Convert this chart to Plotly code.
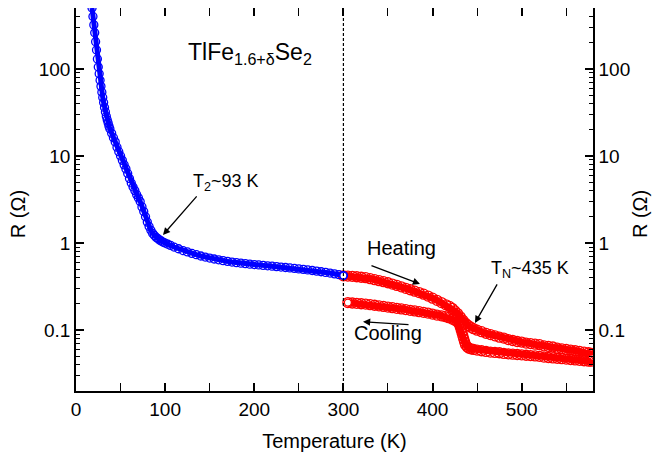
import math
import plotly.graph_objects as go

# ---------------- data ----------------
T_low = [18, 19, 20, 21, 22, 23, 24, 25, 26, 27, 28, 29, 30, 31, 32, 33, 34, 35, 36, 37, 38,
         40, 42, 44, 46, 48, 50, 52, 54, 56, 58, 60, 62, 64, 66, 68, 70, 72, 74, 76, 78,
         80, 82, 84, 86, 88, 90, 92, 94, 96, 98, 100, 103, 106, 110, 115, 120, 125, 130,
         135, 140, 145, 150, 155, 160, 165, 170, 175, 180, 185, 190, 195, 200, 205, 210,
         215, 220, 225, 230, 235, 240, 245, 250, 255, 260, 265, 270, 275, 280, 285, 290,
         295, 300]
R_low = [500, 400, 320, 260, 205, 165, 130, 105, 88, 74, 63, 54, 47, 41, 36, 32, 28.5, 26, 24,
         22, 20.5,
         18.2, 16.2, 14.5, 12.6, 11.2, 10.0, 8.9, 7.9, 7.1, 6.3, 5.5, 4.9, 4.4, 4.0, 3.6, 3.3,
         3.0, 2.6, 2.3, 2.0,
         1.74, 1.55, 1.40, 1.29, 1.22, 1.16, 1.12, 1.08, 1.05, 1.02, 1.0, 0.97, 0.94, 0.90,
         0.86, 0.82, 0.79, 0.76,
         0.735, 0.71, 0.69, 0.672, 0.656, 0.642, 0.628, 0.616, 0.605, 0.595, 0.587, 0.579,
         0.572, 0.566, 0.56, 0.554,
         0.548, 0.542, 0.536, 0.53, 0.524, 0.518, 0.511, 0.505, 0.498, 0.491, 0.484, 0.476,
         0.468, 0.46, 0.452, 0.443,
         0.433, 0.423]

T_heat = [300, 305, 310, 315, 320, 325, 330, 335, 340, 345, 350, 355, 360, 365, 370, 375,
          380, 385, 390, 395, 400, 405, 410, 415, 419, 422, 425, 428, 431, 434, 437, 440,
          443, 446, 450, 455, 460, 465, 470, 475, 480, 485, 490, 495, 500, 505, 510, 515,
          520, 525, 530, 535, 540, 545, 550, 555, 560, 565, 570, 575, 578, 579, 579, 579]
R_heat = [0.42, 0.418, 0.415, 0.41, 0.405, 0.40, 0.39, 0.38, 0.37, 0.36, 0.35, 0.338, 0.326,
          0.314, 0.302, 0.291, 0.28, 0.27, 0.259, 0.246, 0.233, 0.22, 0.207, 0.195, 0.187, 0.178,
          0.166, 0.155, 0.142, 0.13, 0.12, 0.113, 0.108, 0.104, 0.10, 0.096, 0.092, 0.089,
          0.086, 0.083, 0.081, 0.078, 0.076, 0.074, 0.073, 0.071, 0.07, 0.069, 0.068, 0.066,
          0.065, 0.064, 0.062, 0.061, 0.06, 0.059, 0.058, 0.057, 0.056, 0.055, 0.054, 0.052,
          0.05, 0.048]

T_cool = [579, 578, 575, 570, 565, 560, 555, 550, 545, 540, 535, 530, 525, 520, 515, 510,
          505, 500, 495, 490, 485, 480, 475, 470, 465, 460, 455, 450, 446, 443, 441, 439,
          437, 436, 435, 434, 433, 432, 431, 430, 428, 425, 422, 418, 414, 410, 405, 400,
          395, 390, 385, 380, 375, 370, 365, 360, 355, 350, 345, 340, 335, 330, 325, 320,
          315, 310, 305]
R_cool = [0.046, 0.044, 0.044, 0.0445, 0.045, 0.0455, 0.046, 0.0465, 0.047, 0.0475, 0.048,
          0.0485, 0.049, 0.050, 0.0505, 0.051, 0.0515, 0.052, 0.0525, 0.053, 0.0535, 0.054,
          0.055, 0.0555, 0.056, 0.057, 0.058, 0.059, 0.060, 0.061, 0.062, 0.064, 0.068,
          0.073, 0.079, 0.086, 0.094, 0.102, 0.11, 0.117, 0.124, 0.13, 0.134, 0.139, 0.143,
          0.146, 0.149, 0.153, 0.157, 0.160, 0.163, 0.166, 0.169, 0.172, 0.175, 0.178, 0.181,
          0.184, 0.187, 0.19, 0.193, 0.196, 0.199, 0.201, 0.203, 0.205, 0.207]

x_ticks = [0, 100, 200, 300, 400, 500]
y_ticks = [0.1, 1, 10, 100]
y_tick_text = ["0.1", "1", "10", "100"]
T_divider = 300

BLUE = "#0000FF"
RED = "#FF0000"
FONT = "Liberation Sans, Arial, Helvetica, sans-serif"

fig = go.Figure()


def add_series(T, R, color, size, lw):
    fig.add_trace(go.Scatter(
        x=T, y=R, mode="lines+markers",
        line=dict(color=color, width=lw),
        marker=dict(symbol="circle-open", size=size, color=color, line=dict(width=1.3)),
        hoverinfo="skip", showlegend=False))
    # last measured point drawn on top (white interior)
    fig.add_trace(go.Scatter(
        x=[T[-1]], y=[R[-1]], mode="markers",
        marker=dict(symbol="circle", size=7, color="white", line=dict(color=color, width=1.3)),
        hoverinfo="skip", showlegend=False))


add_series(T_heat, R_heat, RED, 10, 7)
add_series(T_cool, R_cool, RED, 10, 7)
add_series(T_low, R_low, BLUE, 8, 5)

# invisible trace to anchor the right axis
fig.add_trace(go.Scatter(x=[T_low[-1]], y=[R_low[-1]], yaxis="y2", mode="markers",
                         marker=dict(opacity=0), hoverinfo="skip", showlegend=False))

fig.add_shape(type="line", xref="x", yref="paper", x0=T_divider, x1=T_divider, y0=0, y1=1,
              line=dict(color="black", width=1.2, dash="3px,2px"))

ylog = [-1.69897, 2.69897]
axis_common = dict(showgrid=False, zeroline=False, linecolor="black", linewidth=1.5,
                   ticks="inside", ticklen=8, tickwidth=1.5, tickcolor="black", automargin=False,
                   tickfont=dict(family=FONT, size=19, color="black"))
minor_common = dict(ticks="inside", ticklen=4, tickwidth=1.3, tickcolor="black")

# the page body adds an 8 px margin, so the figure is 8 px smaller than the window
fig.update_layout(
    width=653, height=449,
    margin=dict(l=68, r=68, t=0, b=66),
    paper_bgcolor="white", plot_bgcolor="white",
    font=dict(family=FONT, color="black"),
    xaxis=dict(range=[0, 580], tickvals=x_ticks, showline=True, mirror="allticks",
               minor=dict(dtick=50, tick0=0, **minor_common),
               title=dict(text="Temperature (K)", font=dict(family=FONT, size=20), standoff=15),
               **axis_common),
    yaxis=dict(type="log", range=ylog, tickvals=y_ticks, ticktext=y_tick_text, showline=True,
               minor=dict(dtick="D1", **minor_common),
               **axis_common),
    yaxis2=dict(type="log", range=ylog, overlaying="y", side="right", tickvals=y_ticks,
                ticktext=y_tick_text, showline=True,
                minor=dict(dtick="D1", **minor_common),
                **axis_common),
)


def label(text, xp, yp, size, xanchor="left", angle=0):
    fig.add_annotation(text=text, xref="paper", yref="paper", x=xp, y=yp, showarrow=False,
                       xanchor=xanchor, yanchor="middle", textangle=angle,
                       font=dict(family=FONT, size=size, color="black"))


# y-axis titles (both sides)
label("R (Ω)", -0.112, 0.462, 20, xanchor="center", angle=-90)
label("R (Ω)", 1.091, 0.462, 20, xanchor="center", angle=-90)

label("TlFe<sub>1.6+δ</sub>Se<sub>2</sub>", 0.213, 0.88, 23)
label("T<sub>2</sub>~93 K", 0.222, 0.545, 18)
label("Heating", 0.559, 0.373, 20)
label("Cooling", 0.533, 0.151, 20)
label("T<sub>N</sub>~435 K", 0.799, 0.318, 18)


def arrow(x, y, ax, ay):
    fig.add_annotation(x=x, y=y, xref="x", yref="y", ax=ax, ay=ay, text="",
                       showarrow=True, arrowhead=2, arrowsize=1.1, arrowwidth=1.3,
                       arrowcolor="black")


arrow(97.6, math.log10(1.24), 35, -40)
arrow(385.9, math.log10(0.339), -50, -19)
arrow(322.0, math.log10(0.125), 47, 3)
arrow(447.6, math.log10(0.121), 23, -40)

fig.write_html("out.html")
